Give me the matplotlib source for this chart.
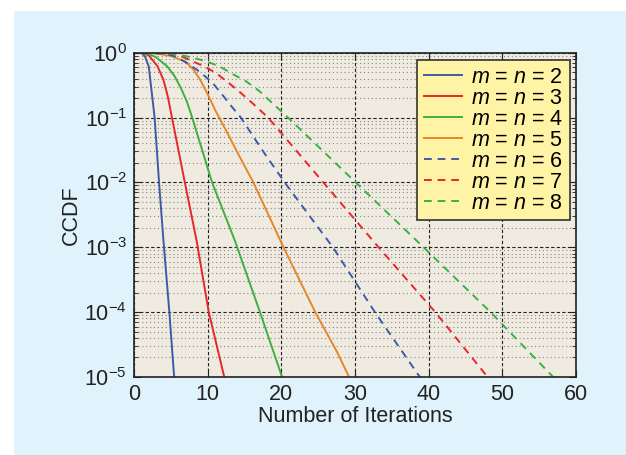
import numpy as np
import matplotlib
matplotlib.use("Agg")
import matplotlib.pyplot as plt
from matplotlib.patches import Rectangle

plt.rcParams['font.family'] = ['Liberation Sans', 'DejaVu Sans']
plt.rcParams['mathtext.fontset'] = 'custom'
plt.rcParams['mathtext.rm'] = 'Liberation Sans'
plt.rcParams['mathtext.it'] = 'Liberation Sans:italic'

# CCDF vs number of iterations (log10 of CCDF)
x_2 = [1, 1.5, 2, 2.8, 3.4, 4.0, 4.8, 5.45]
ly_2 = [0, -0.06, -0.21, -1, -2, -2.9, -4, -5]

x_3 = [1, 2, 3.2, 4.0, 4.6, 5.15, 6.9, 8.5, 10.15, 12.25]
ly_3 = [0, -0.04, -0.21, -0.42, -0.68, -1, -2, -2.9, -4, -5]

x_4 = [1, 2, 3, 4.5, 5.5, 6.35, 7.2, 7.9, 10.6, 13.7, 17.1, 20.1]
ly_4 = [0, -0.02, -0.07, -0.21, -0.36, -0.54, -0.76, -1, -2, -2.9, -4, -5]

x_5 = [1, 3, 5, 7, 8, 9, 10, 11, 12.5, 14, 16.2, 20.3, 24.6, 27.5, 29.2]
ly_5 = [0, -0.01, -0.05, -0.14, -0.25, -0.42, -0.64, -0.88, -1.2, -1.53, -2, -3, -4, -4.6, -5]

x_6 = [1, 4, 5.7, 7.5, 9.1, 10.7, 12.0, 13.4, 14.5, 17.4, 20.45, 27.0, 32.7, 38.8]
ly_6 = [0, -0.01, -0.06, -0.18, -0.31, -0.47, -0.65, -0.85, -1, -1.5, -2, -3, -4, -5]

x_7 = [1, 5.7, 7.5, 9.5, 11.1, 12.9, 14.5, 16.1, 18.2, 25.7, 33.2, 40.9, 48.0]
ly_7 = [0, -0.02, -0.11, -0.21, -0.31, -0.47, -0.62, -0.78, -1, -2, -3, -4, -5]

x_8 = [1, 5.7, 7.7, 9.75, 11.6, 13.4, 15.2, 17.0, 20.9, 30.1, 39.3, 48.4, 56.9]
ly_8 = [0, -0.02, -0.07, -0.13, -0.21, -0.33, -0.44, -0.59, -1, -2, -3, -4, -5]

labels = [r"$m$ = $n$ = %d" % k for k in range(2, 9)]
colors = ["#3d5ba9", "#e8262b", "#3cb043", "#e8862a", "#3d5ba9", "#e8262b", "#3cb043"]
styles = ["-", "-", "-", "-", (0, (4, 3)), (0, (4, 3)), (0, (4, 3))]

xs = [x_2, x_3, x_4, x_5, x_6, x_7, x_8]
lys = [ly_2, ly_3, ly_4, ly_5, ly_6, ly_7, ly_8]

fig = plt.figure(figsize=(6.26, 4.55), dpi=100)
fig.patches.append(Rectangle((14 / 626, 0), 1, 1 - 11 / 455, transform=fig.transFigure,
                             facecolor="#e0f2fb", edgecolor="none", zorder=-10))
ax = fig.add_axes([134 / 626, (455 - 377) / 455, 442 / 626, (377 - 52.7) / 455])
ax.set_facecolor("#f0ebe1")

for x, ly, c, ls, lab in zip(xs, lys, colors, styles, labels):
    ax.plot(x, 10 ** np.array(ly), color=c, linestyle=ls, linewidth=1.4, label=lab)

ax.set_yscale("log")
ax.set_xlim(0, 60)
ax.set_ylim(1e-5, 1)
ax.set_xticks(range(0, 61, 10))

ax.grid(which="major", color="#222222", linestyle=(0, (3, 2)), linewidth=0.8)
ax.grid(which="minor", axis="y", color="#888888", linestyle=(0, (1, 2.5)), linewidth=0.8)
ax.tick_params(which="both", direction="in", top=True, right=True, labelsize=15.5,
               colors="#222222")
ax.tick_params(which="major", length=5, pad=5)
ax.tick_params(which="minor", length=3)
for s in ax.spines.values():
    s.set_linewidth(1.2)
    s.set_color("#222222")

ax.set_xlabel("Number of Iterations", fontsize=15.5, color="#222222", labelpad=1)
ax.set_ylabel("CCDF", fontsize=15.5, color="#222222", labelpad=2)

leg = ax.legend(loc="upper right", bbox_to_anchor=(0.986, 0.977), borderaxespad=0,
                fontsize=15.5, handlelength=1.8, labelspacing=0.0, handletextpad=0.4,
                fancybox=False, framealpha=1, borderpad=0.3)
leg.get_frame().set_facecolor("#fff3a6")
leg.get_frame().set_edgecolor("#333333")
leg.get_frame().set_linewidth(1.2)

plt.savefig("out.png", dpi=100)
